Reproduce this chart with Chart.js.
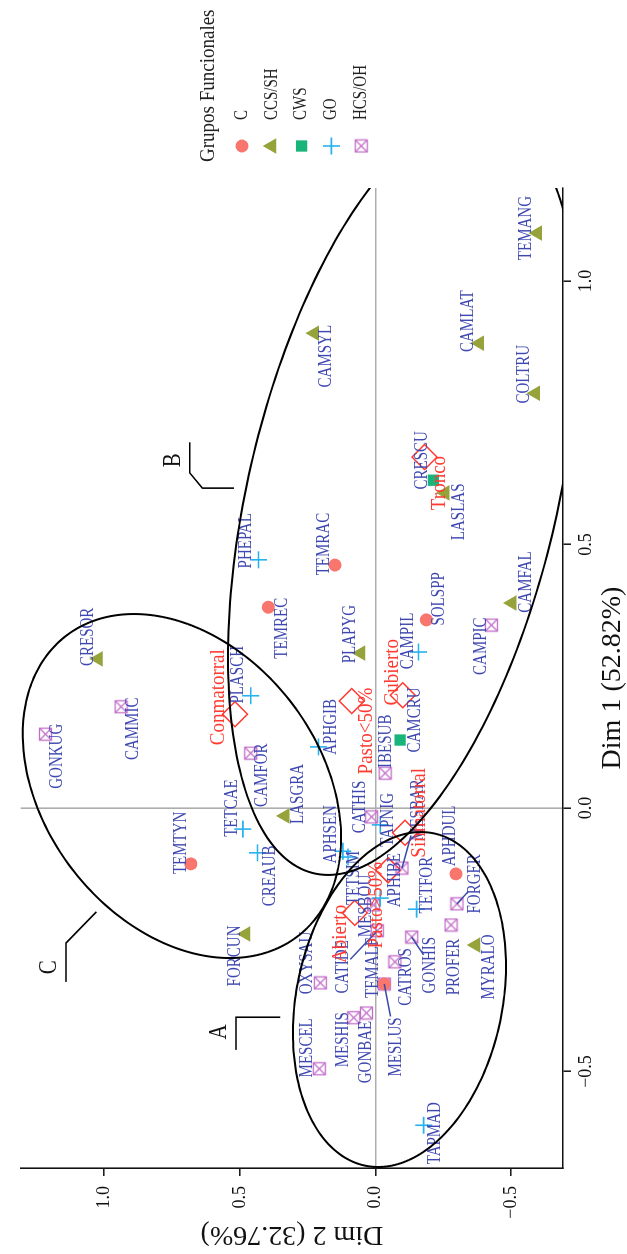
<!DOCTYPE html>
<html>
<head>
<meta charset="utf-8">
<script src="https://cdn.jsdelivr.net/npm/chart.js@4/dist/chart.umd.min.js"></script>
<style>
  html, body { margin: 0; padding: 0; background: #fff; overflow: hidden; width: 627px; height: 1254px; }
  /* the biplot is laid out landscape and turned a quarter turn counter-clockwise */
  #turn { position: absolute; left: 0; top: 0; width: 1254px; height: 627px;
          transform-origin: 0 0; transform: translateY(1254px) rotate(-90deg); }
</style>
</head>
<body>
<div id="turn"><canvas id="mca" width="1254" height="627"></canvas></div>
<script>
// ---- functional groups ----
const groups = ['C', 'CCS/SH', 'CWS', 'GO', 'HCS/OH'];
const groupColors = ['#F8766D', '#95A33A', '#19B47A', '#26B2EE', '#C36FC9'];

// ---- species (active individuals) ----
const species = ['TEMANG','CAMSYL','CAMLAT','COLTRU','CRESCU','LASLAS','TEMRAC','CAMFAL','SOLSPP','PLAPYG',
  'CAMPIL','CAMPIC','TEMREC','PHEPAL','CRESOR','CAMMIC','GONKUG','PLASCH','CAMFOR','LASGRA',
  'APHGIB','TETCAE','CREAUB','TEMTYN','FORCUN','APHSEN','TETSIM','CATHIS','TAPNIG','IBESUB',
  'CAMCRU','MESBAR','APHIBE','MESBOU','CATIDE','TEMALF','MESLUS','CATROS','GONHIS','TETFOR',
  'APHDUL','FORGER','PROFER','MYRALO','OXYSAU','MESCEL','MESHIS','GONBAE','TAPMAD'];
const speciesGroup = ['CCS/SH','CCS/SH','CCS/SH','CCS/SH','CWS','CCS/SH','C','CCS/SH','C','CCS/SH',
  'GO','HCS/OH','C','GO','CCS/SH','HCS/OH','HCS/OH','GO','HCS/OH','CCS/SH',
  'GO','GO','GO','C','CCS/SH','GO','GO','HCS/OH','GO','HCS/OH',
  'CWS','HCS/OH','GO','HCS/OH','HCS/OH','C','HCS/OH','HCS/OH','HCS/OH','GO',
  'C','HCS/OH','HCS/OH','CCS/SH','HCS/OH','HCS/OH','HCS/OH','HCS/OH','GO'];
const dim1 = [1.091, 0.901, 0.882, 0.787, 0.622, 0.598, 0.461, 0.389, 0.357, 0.294,
  0.296, 0.347, 0.381, 0.471, 0.283, 0.192, 0.140, 0.213, 0.104, -0.015,
  0.116, -0.040, -0.085, -0.106, -0.239, -0.082, -0.093, -0.017, -0.032, 0.066,
  0.129, -0.114, -0.171, -0.184, -0.233, -0.334, -0.334, -0.292, -0.245, -0.192,
  -0.125, -0.182, -0.222, -0.260, -0.332, -0.495, -0.398, -0.389, -0.602];
const dim2 = [-0.598, 0.225, -0.384, -0.591, -0.214, -0.257, 0.149, -0.504, -0.188, 0.054,
  -0.159, -0.428, 0.395, 0.431, 1.022, 0.938, 1.217, 0.460, 0.460, 0.333,
  0.210, 0.489, 0.435, 0.681, 0.478, 0.120, 0.101, 0.014, -0.018, -0.036,
  -0.091, -0.098, -0.018, 0.007, -0.007, -0.033, -0.033, -0.072, -0.134, -0.152,
  -0.297, -0.301, -0.279, -0.370, 0.203, 0.207, 0.080, 0.033, -0.178];

// ---- habitat categories (supplementary) ----
const habitats = ['Conmatorral', 'Pasto<50%', 'Cubierto', 'Sinmatorral', 'Abierto', 'Pasto>50%', 'Tronco'];
const habitatDim1 = [0.178, 0.203, 0.214, -0.047, -0.199, -0.118, 0.666];
const habitatDim2 = [0.518, 0.087, -0.101, -0.109, 0.076, -0.047, -0.181];

// ---- axes ----
const dim1Ticks = [-0.5, 0.0, 0.5, 1.0];
const dim2Ticks = [-0.5, 0.0, 0.5, 1.0];
const dim1Title = 'Dim 1 (52.82%)';
const dim2Title = 'Dim 2 (32.76%)';
const legendTitle = 'Grupos Funcionales';

// ---- clusters: centre and two conjugate semi-axes, in Dim units ----
const clusterNames = ['A', 'B', 'C'];
const clusterCentreDim1 = [-0.3634, 0.594, 0.0417];
const clusterCentreDim2 = [-0.0888, -0.101, 0.7138];
const clusterAxisU = [[-0.3178, 0.0786], [-0.721, 0.275], [-0.3264, -0.1768]];
const clusterAxisV = [[0, -0.385], [0, -0.583], [0, -0.5598]];
// bracket tag beside each cluster, in Dim units
const clusterTagPath = [
  [[-0.459, 0.514], [-0.397, 0.514], [-0.397, 0.351]],
  [[0.694, 0.685], [0.636, 0.685], [0.607, 0.638], [0.607, 0.522]],
  [[-0.330, 1.141], [-0.256, 1.141], [-0.197, 1.029]]
];
const clusterTagLetter = [[-0.425, 0.576], [0.660, 0.743], [-0.302, 1.203]];

// ---- label placement (pixel nudges from each marker) ----
const labelNudge = {
  TEMANG:[5,-11], CAMSYL:[-23,12], CAMLAT:[22,-11], COLTRU:[19,-11], CRESCU:[20,-11], LASLAS:[-19,14],
  TEMRAC:[21,-11], CAMFAL:[21,14], SOLSPP:[21,13], PLAPYG:[19,-10], CAMPIL:[11,-10], CAMPIC:[-21,-10],
  TEMREC:[-21,14], PHEPAL:[19,-12], CRESOR:[22,-10], CAMMIC:[-22,12], GONKUG:[-22,12], PLASCH:[21,-12],
  CAMFOR:[-22,12], LASGRA:[22,13], APHGIB:[20,13], TETCAE:[21,-11], CREAUB:[-23,13], TEMTYN:[21,-10],
  FORCUN:[-22,-11], APHSEN:[17,-12], TETSIM:[-21,6], CATHIS:[10,-11], TAPNIG:[5,8], IBESUB:[32,1],
  CAMCRU:[20,15], MESBAR:[58,16], APHIBE:[18,15], MESBOU:[-1,-7], CATIDE:[-36,-34], TEMALF:[16,-11],
  MESLUS:[-63,12], CATROS:[-15,11], GONHIS:[-28,19], TETFOR:[24,11], APHDUL:[38,-6], FORGER:[20,18],
  PROFER:[-42,3], MYRALO:[-22,14], OXYSAU:[20,-13], MESCEL:[21,-12], MESHIS:[-22,-10], GONBAE:[-39,0],
  TAPMAD:[-8,12],
  'Conmatorral':[17,-16], 'Pasto<50%':[-30,15], 'Cubierto':[23,-10], 'Sinmatorral':[20,15],
  'Abierto':[-21,-14], 'Pasto>50%':[-35,-12], 'Tronco':[-26,15]
};
const leaderLabels = ['MESBAR', 'CATIDE', 'MESLUS', 'GONHIS', 'FORGER'];

const SERIF = "'Liberation Serif', 'Times New Roman', serif";
const speciesLabelColor = '#3F48B0';
const habitatColor = '#FF3A30';

// square with a cross inside, used for HCS/OH
function boxedCross(color) {
  const c = document.createElement('canvas');
  c.width = 15; c.height = 15;
  const g = c.getContext('2d');
  g.strokeStyle = color; g.lineWidth = 1.3;
  g.strokeRect(1.5, 1.5, 12, 12);
  g.beginPath();
  g.moveTo(1.5, 1.5); g.lineTo(13.5, 13.5);
  g.moveTo(13.5, 1.5); g.lineTo(1.5, 13.5);
  g.stroke();
  return c;
}

const groupStyle = {
  'C':      { pointStyle: 'circle',   radius: 6.5, filled: true },
  'CCS/SH': { pointStyle: 'triangle', radius: 9,   filled: true },
  'CWS':    { pointStyle: 'rect',     radius: 8,   filled: true },
  'GO':     { pointStyle: 'cross',    radius: 8.5, filled: false },
  'HCS/OH': { pointStyle: boxedCross('#C36FC9'), radius: 7.5, filled: false }
};

const datasets = groups.map((g, gi) => {
  const st = groupStyle[g];
  const pts = [];
  species.forEach((name, i) => {
    if (speciesGroup[i] === g) pts.push({ x: dim1[i], y: dim2[i], name: name });
  });
  return {
    label: g,
    data: pts,
    pointStyle: st.pointStyle,
    pointRadius: st.radius,
    pointBackgroundColor: st.filled ? groupColors[gi] : 'rgba(0,0,0,0)',
    pointBorderColor: groupColors[gi],
    pointBorderWidth: st.filled ? 0 : 1.6,
    showLine: false,
    kind: 'species'
  };
});
datasets.push({
  label: 'habitat',
  data: habitats.map((h, i) => ({ x: habitatDim1[i], y: habitatDim2[i], name: h })),
  pointStyle: 'rectRot',
  pointRadius: 12.5,
  pointBackgroundColor: 'rgba(0,0,0,0)',
  pointBorderColor: habitatColor,
  pointBorderWidth: 1.5,
  showLine: false,
  kind: 'habitat'
});

function drawText(ctx, text, x, y, font, color, stretch, align) {
  ctx.save();
  ctx.translate(x, y);
  ctx.scale(1, stretch);
  ctx.font = font;
  ctx.fillStyle = color;
  ctx.textAlign = align || 'center';
  ctx.textBaseline = 'middle';
  ctx.fillText(text, 0, 0);
  ctx.restore();
}

const labelsPlugin = {
  id: 'pointLabels',
  afterDatasetsDraw(chart) {
    const ctx = chart.ctx;
    chart.data.datasets.forEach((ds, di) => {
      const meta = chart.getDatasetMeta(di);
      const isHabitat = ds.kind === 'habitat';
      const font = isHabitat ? '19px ' + SERIF : '15px ' + SERIF;
      const color = isHabitat ? habitatColor : speciesLabelColor;
      const stretch = isHabitat ? 1.1 : 1.2;
      meta.data.forEach((el, j) => {
        const name = ds.data[j].name;
        const nudge = labelNudge[name] || [0, -12];
        const lx = el.x + nudge[0], ly = el.y + nudge[1];
        if (leaderLabels.includes(name)) {
          ctx.save();
          ctx.font = font;
          const hw = ctx.measureText(name).width / 2 + 1;
          const hh = 7;
          const dx = lx - el.x, dy = ly - el.y;
          const k = Math.min(Math.abs(dx) > 0 ? hw / Math.abs(dx) : Infinity,
                             Math.abs(dy) > 0 ? hh / Math.abs(dy) : Infinity);
          const s = Math.max(0, 1 - k);
          ctx.strokeStyle = '#3A4AA8';
          ctx.lineWidth = 1.5;
          ctx.beginPath();
          ctx.moveTo(el.x, el.y);
          ctx.lineTo(el.x + s * dx, el.y + s * dy);
          ctx.stroke();
          ctx.restore();
        }
        drawText(ctx, name, lx, ly, font, color, stretch);
      });
    });
  }
};

const clustersPlugin = {
  id: 'clusters',
  afterDatasetsDraw(chart) {
    const ctx = chart.ctx, xs = chart.scales.x, ys = chart.scales.y, a = chart.chartArea;
    const px = (d1, d2) => [xs.getPixelForValue(d1), ys.getPixelForValue(d2)];
    ctx.save();
    ctx.beginPath();
    ctx.rect(a.left, a.top, a.right - a.left, a.bottom - a.top);
    ctx.clip();
    ctx.strokeStyle = '#000';
    ctx.lineWidth = 2;
    clusterNames.forEach((n, k) => {
      const u = clusterAxisU[k], v = clusterAxisV[k];
      ctx.beginPath();
      for (let s = 0; s <= 240; s++) {
        const t = s / 240 * Math.PI * 2;
        const c = Math.cos(t), sn = Math.sin(t);
        const p = px(clusterCentreDim1[k] + u[0] * c + v[0] * sn,
                     clusterCentreDim2[k] + u[1] * c + v[1] * sn);
        if (s === 0) ctx.moveTo(p[0], p[1]); else ctx.lineTo(p[0], p[1]);
      }
      ctx.closePath();
      ctx.stroke();
    });
    ctx.restore();

    ctx.save();
    ctx.strokeStyle = '#000';
    ctx.lineWidth = 1.6;
    clusterNames.forEach((n, k) => {
      ctx.beginPath();
      clusterTagPath[k].forEach((q, i) => {
        const p = px(q[0], q[1]);
        if (i === 0) ctx.moveTo(p[0], p[1]); else ctx.lineTo(p[0], p[1]);
      });
      ctx.stroke();
      const L = px(clusterTagLetter[k][0], clusterTagLetter[k][1]);
      drawText(ctx, n, L[0], L[1], '21px ' + SERIF, '#111', 1.15);
    });
    ctx.restore();
  }
};

function drawMarker(ctx, g, gi, x, y) {
  const st = groupStyle[g];
  const col = groupColors[gi];
  if (window.Chart && Chart.helpers && Chart.helpers.drawPoint) {
    ctx.save();
    ctx.fillStyle = st.filled ? col : 'rgba(0,0,0,0)';
    ctx.strokeStyle = col;
    ctx.lineWidth = st.filled ? 0 : 1.6;
    Chart.helpers.drawPoint(ctx, { pointStyle: st.pointStyle, radius: st.radius, rotation: 0,
                                   borderWidth: st.filled ? 0 : 1.6 }, x, y);
    ctx.restore();
  }
}

const legendPlugin = {
  id: 'groupLegend',
  afterDraw(chart) {
    const ctx = chart.ctx, right = chart.chartArea.right;
    drawText(ctx, legendTitle, right + 26, 208, '19px ' + SERIF, '#222', 1.12, 'left');
    groups.forEach((g, i) => {
      const y = 242 + i * 29.8;
      drawMarker(ctx, g, i, right + 42, y);
      drawText(ctx, g, right + 68, y, '15px ' + SERIF, '#222', 1.2, 'left');
    });
  }
};

const fmt = v => (v < 0 ? '\u2212' : '') + Math.abs(v).toFixed(1);
const zeroGrid = c => (c.tick && Math.abs(c.tick.value) < 1e-9) ? '#ADADAD' : 'rgba(0,0,0,0)';

new Chart(document.getElementById('mca'), {
  type: 'scatter',
  data: { datasets: datasets },
  options: {
    responsive: false,
    animation: false,
    devicePixelRatio: 1,
    events: [],
    layout: { padding: { left: 0, top: 11, right: 188, bottom: 0 } },
    plugins: { legend: { display: false }, tooltip: { enabled: false } },
    scales: {
      x: {
        type: 'linear', min: -0.6831, max: 1.1765,
        afterBuildTicks: s => { s.ticks = dim1Ticks.map(v => ({ value: v })); },
        afterFit: s => { s.height = 64; },
        grid: { color: zeroGrid, lineWidth: 1.6, drawTicks: true, tickLength: 8, tickColor: '#111', tickWidth: 1.5 },
        border: { display: true, color: '#111', width: 1.6 },
        ticks: { callback: fmt, autoSkip: false, maxRotation: 0, padding: 4, color: '#111',
                 font: { family: SERIF, size: 18 } },
        title: { display: true, text: dim1Title, color: '#111', padding: { top: 0, bottom: 0 },
                 font: { family: SERIF, size: 28, lineHeight: 1.0 } }
      },
      y: {
        type: 'linear', min: -0.692, max: 1.308,
        afterBuildTicks: s => { s.ticks = dim2Ticks.map(v => ({ value: v })); },
        afterFit: s => { s.width = 86; },
        grid: { color: zeroGrid, lineWidth: 1.6, drawTicks: true, tickLength: 8, tickColor: '#111', tickWidth: 1.5 },
        border: { display: true, color: '#111', width: 1.6 },
        ticks: { callback: fmt, autoSkip: false, padding: 10, color: '#111',
                 font: { family: SERIF, size: 18 } },
        title: { display: true, text: dim2Title, color: '#111', padding: { top: 6, bottom: 0 },
                 font: { family: SERIF, size: 28, lineHeight: 1.0 } }
      }
    }
  },
  plugins: [labelsPlugin, clustersPlugin, legendPlugin]
});
</script>
</body>
</html>
